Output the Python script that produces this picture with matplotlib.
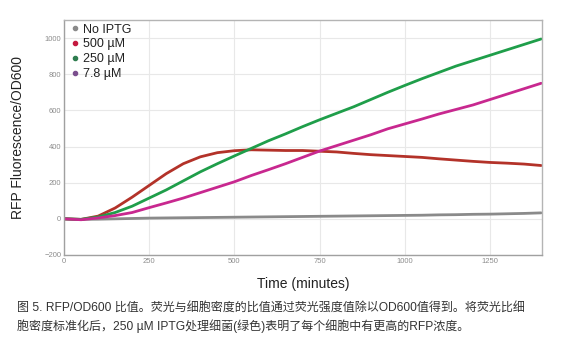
import matplotlib
matplotlib.use("Agg")
import matplotlib.pyplot as plt
from matplotlib.lines import Line2D

plt.rcParams['font.family'] = ['Liberation Sans', 'Noto Sans CJK SC', 'DejaVu Sans']

time = [0, 50, 100, 150, 200, 250, 300, 350, 400, 450, 500, 550, 600, 650, 700,
        750, 800, 850, 900, 950, 1000, 1050, 1100, 1150, 1200, 1250, 1300, 1350, 1400]

no_iptg = [0, -3, -2, 0, 2, 4, 5, 6, 7, 8, 9, 10, 11, 12, 13,
           14, 15, 16, 17, 18, 19, 20, 22, 23, 25, 26, 28, 30, 33]
um500 = [0, -3, 15, 60, 120, 185, 250, 305, 343, 366, 377, 382, 380, 378, 378,
         374, 370, 362, 355, 350, 345, 340, 332, 325, 318, 312, 308, 303, 295]
um250 = [0, -3, 10, 35, 70, 115, 160, 210, 260, 305, 348, 390, 432, 470, 510,
         548, 584, 620, 660, 700, 738, 775, 810, 845, 875, 905, 935, 965, 995]
um7_8 = [0, -5, 5, 18, 35, 62, 88, 115, 145, 175, 205, 240, 272, 305, 340,
         375, 405, 435, 465, 498, 525, 552, 580, 605, 630, 660, 690, 720, 750]

series_labels = ["No IPTG", "500 µM", "250 µM", "7.8 µM"]
line_colors = ["#8a8a8a", "#b33229", "#1f9e4a", "#c8288f"]
legend_colors = ["#8a8a8a", "#c4193f", "#2e7d4f", "#7b4f8e"]

xticks = [0, 250, 500, 750, 1000, 1250]
yticks = [-200, 0, 200, 400, 600, 800, 1000]

caption = ("图 5. RFP/OD600 比值。荧光与细胞密度的比值通过荧光强度值除以OD600值得到。将荧光比细\n"
           "胞密度标准化后，250 µM IPTG处理细菌(绿色)表明了每个细胞中有更高的RFP浓度。")

fig = plt.figure(figsize=(5.63, 3.54), dpi=100)
ax = fig.add_axes([0.1137, 0.2797, 0.8493, 0.6638])

for vals, c in zip([no_iptg, um500, um250, um7_8], line_colors):
    ax.plot(time, vals, color=c, lw=2.0, solid_capstyle='round', solid_joinstyle='round')

ax.set_xlim(0, 1403)
ax.set_ylim(-200, 1100)
ax.set_xticks(xticks)
ax.set_yticks(yticks)
ax.tick_params(axis='both', labelsize=5.5, labelcolor='#8c8c8c', length=0, pad=2)
ax.grid(True, color='#e8e8e8', lw=0.8)
ax.set_axisbelow(True)
for side in ['left', 'bottom']:
    ax.spines[side].set_color('#a0a0a0')
    ax.spines[side].set_linewidth(1.0)
for side in ['top', 'right']:
    ax.spines[side].set_color('#b4b4b4')
    ax.spines[side].set_linewidth(1.0)

ax.set_xlabel("Time (minutes)", fontsize=10, color='#222222', labelpad=9)
ax.set_ylabel("RFP Fluorescence/OD600", fontsize=10, color='#222222', labelpad=14)

handles = [Line2D([], [], marker='o', ls='none', color=c, markersize=3) for c in legend_colors]
leg = ax.legend(handles, series_labels, loc='upper left', frameon=False, fontsize=9,
                handlelength=0.6, handletextpad=0.35, labelspacing=0.22,
                borderaxespad=0.0, borderpad=0.2, bbox_to_anchor=(0.01, 0.995))
for t in leg.get_texts():
    t.set_color('#222222')

fig.text(0.03, 0.148, caption, fontsize=8.65, color='#333333', va='top', ha='left',
         linespacing=1.55, family=['Liberation Sans', 'Noto Sans CJK SC', 'DejaVu Sans'])

fig.savefig("out.png", dpi=100, facecolor='white')
